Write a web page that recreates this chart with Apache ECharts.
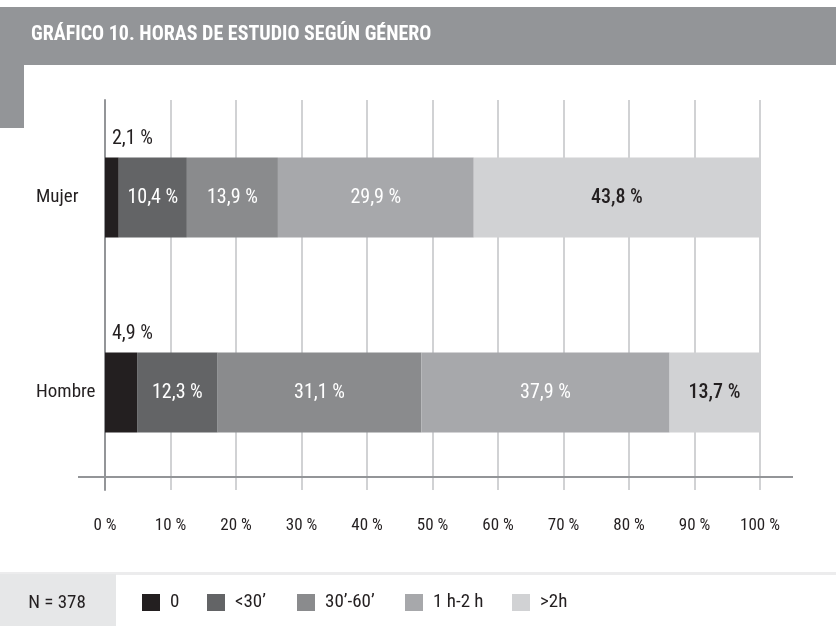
<!DOCTYPE html>
<html>
<head>
<meta charset="utf-8">
<script src="https://cdn.jsdelivr.net/npm/echarts@6/dist/echarts.min.js"></script>
<style>
    html, body {
        margin: 0;
        padding: 0;
        background: #ffffff;
    }

    #chart {
        width: 836px;
        height: 626px;
    }
</style>
</head>
<body>
<div id="chart"></div>
<script>
// categorias (de abajo hacia arriba)
const categorias = ['Hombre', 'Mujer']
// porcentajes por tramo de horas
const cero = [4.9, 2.1]
const menos30 = [12.3, 10.4]
const de30a60 = [31.1, 13.9]
const de1a2 = [37.9, 29.9]
const mas2 = [13.7, 43.8]
const nombres = ['0', '<30\u2019', '30\u2019-60\u2019', '1 h-2 h', '>2h']
const colores = ['#231f20', '#636466', '#8a8b8d', '#a7a8ab', '#d1d2d4']
const ticksX = [0, 10, 20, 30, 40, 50, 60, 70, 80, 90, 100]

const fuente = 'Roboto, "DejaVu Sans", sans-serif'
// posicion x de cada elemento de la leyenda
const leyendaX = [142, 207, 297, 405, 512]

// formato con coma decimal
function pct(v) {
    return v.toFixed(1).replace('.', ',') + ' %'
}

function serie(nombre, datos, idx) {
    const s = {
        name: nombre,
        type: 'bar',
        stack: 'total',
        barWidth: 80,
        data: datos,
        itemStyle: { color: colores[idx] },
        label: {
            show: true,
            position: 'inside',
            formatter: p => pct(p.value),
            color: idx === 4 ? '#231f20' : '#ffffff',
            fontFamily: fuente,
            fontStyle: 'condensed',
            fontSize: 20,
            fontWeight: idx === 4 ? 500 : 400
        }
    }
    //el tramo 0 lleva la etiqueta encima de la barra
    if (idx === 0) {
        s.label.position = [7, -19]
        s.label.align = 'left'
        s.label.verticalAlign = 'middle'
        s.label.color = '#231f20'
    }
    return s
}

const myChart = echarts.init(document.getElementById('chart'))
myChart.setOption({
    animation: false,
    backgroundColor: '#ffffff',
    grid: {
        left: 105,
        right: 76,
        top: 100,
        bottom: 136
    },
    legend: nombres.map((n, i) => ({
        left: leyendaX[i],
        top: 593,
        padding: 0,
        icon: 'rect',
        itemWidth: 18,
        itemHeight: 17,
        data: [n],
        textStyle: {
            color: '#231f20',
            fontFamily: fuente,
            fontStyle: 'condensed',
            fontSize: 19,
            padding: [0, 0, 0, 5]
        }
    })),
    xAxis: {
        type: 'value',
        min: ticksX[0],
        max: ticksX[ticksX.length - 1],
        interval: 10,
        axisLine: { show: false },
        axisTick: { show: false },
        splitLine: { lineStyle: { color: '#d1d2d4', width: 2 } },
        axisLabel: {
            margin: 27,
            color: '#231f20',
            fontFamily: fuente,
            fontStyle: 'condensed',
            fontSize: 17,
            formatter: '{value} %'
        }
    },
    yAxis: {
        type: 'category',
        data: categorias,
        axisTick: { show: false },
        axisLine: { show: true, lineStyle: { color: '#939598', width: 2 } },
        axisLabel: {
            margin: 69,
            align: 'left',
            color: '#231f20',
            fontFamily: fuente,
            fontStyle: 'condensed',
            fontSize: 19
        }
    },
    series: [
        serie(nombres[0], cero, 0),
        serie(nombres[1], menos30, 1),
        serie(nombres[2], de30a60, 2),
        serie(nombres[3], de1a2, 3),
        serie(nombres[4], mas2, 4)
    ],
    graphic: [
        // cabecera
        { type: 'rect', shape: { x: 0, y: 7, width: 836, height: 58 }, style: { fill: '#939598' }, silent: true },
        { type: 'rect', shape: { x: 0, y: 64, width: 24, height: 64 }, style: { fill: '#939598' }, silent: true },
        {
            type: 'text', x: 31, y: 35,
            style: {
                text: 'GRÁFICO 10. HORAS DE ESTUDIO SEGÚN GÉNERO',
                fill: '#ffffff',
                font: 'condensed bold 20px Roboto, sans-serif',
                textVerticalAlign: 'middle'
            }
        },
        // linea horizontal del eje
        { type: 'rect', shape: { x: 78, y: 476, width: 715, height: 2 }, style: { fill: '#939598' }, silent: true, z: 10 },
        // banda de la leyenda
        { type: 'rect', shape: { x: 0, y: 572, width: 836, height: 3 }, style: { fill: '#ececed' }, silent: true },
        { type: 'rect', shape: { x: 0, y: 574, width: 116, height: 52 }, style: { fill: '#e6e7e8' }, silent: true },
        {
            type: 'text', x: 57, y: 603,
            style: {
                text: 'N = 378',
                fill: '#231f20',
                font: 'condensed 19px Roboto, sans-serif',
                textAlign: 'center',
                textVerticalAlign: 'middle'
            }
        }
    ]
})
</script>
</body>
</html>
